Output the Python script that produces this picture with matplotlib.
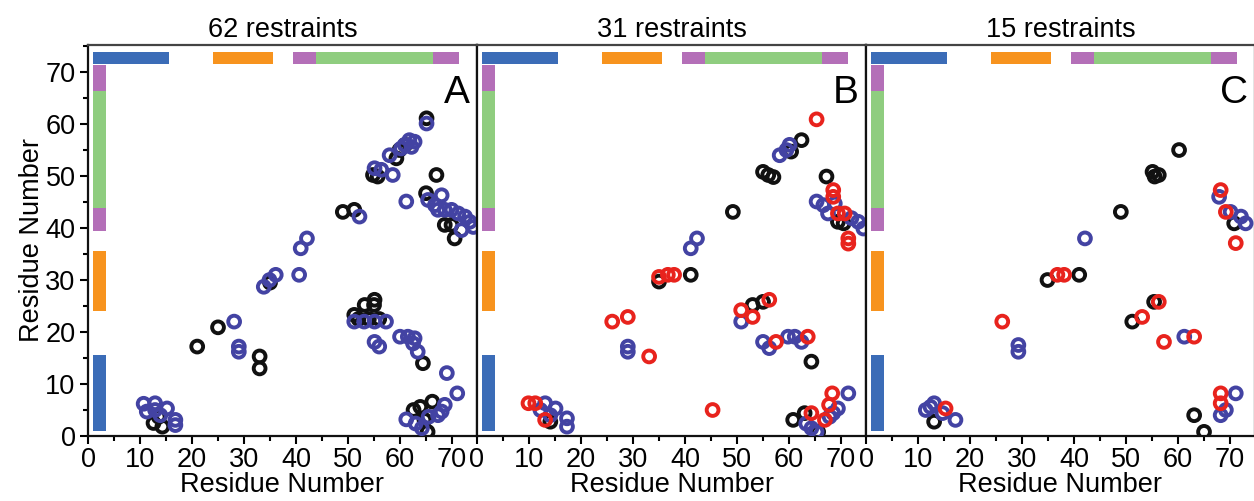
import matplotlib
matplotlib.use("Agg")
import matplotlib.pyplot as plt
from matplotlib.ticker import MultipleLocator

plt.rcParams['font.family'] = ['Liberation Sans', 'DejaVu Sans']

# ---------------- data ----------------
titles = ["62 restraints", "31 restraints", "15 restraints"]
letters = ["A", "B", "C"]

# Panel A
a_black_x = [12.6, 14.3, 13.6, 21, 25, 33, 33, 35, 49, 51.2, 54.8, 55.7, 59.3, 59.9, 61, 65.1, 67, 65, 68.6, 69.9, 70.5,
             51.2, 53.2, 55.1, 55, 52, 54, 56, 64.4, 62.6, 63.9, 66.2, 65.3, 64.7]
a_black_y = [2.5, 1.8, 3.7, 17.2, 20.9, 15.3, 13.0, 29.5, 43.1, 43.5, 50.2, 49.9, 53.4, 55, 56, 61.1, 50.2, 46.7, 40.6, 40.6, 38,
             23.3, 25.2, 26.2, 25.2, 22.5, 22.5, 22.5, 14.0, 5.0, 5.6, 6.6, 0.8, 3.1]
a_blue_x = [10.7, 12.9, 11.3, 12.9, 15.2, 13.9, 16.8, 16.8, 28.1, 29, 29, 33.8, 36.1, 34.9, 40.6, 40.9, 42.1, 52.2,
            55.1, 56.4, 58.6, 58, 60.2, 60.9, 61.8, 62.8, 62.2, 65.1, 61.2, 68, 65.4, 66.7, 67.3, 68.6, 69.9, 71.2,
            72.5, 73.4, 74.1, 71.8, 51.2, 53.1, 55.1, 57.3, 55.1, 56, 60, 61.5, 62.8, 62.5, 63.4, 69, 71, 68.6, 68,
            67.3, 61.2, 63, 64.2, 65.5]
a_blue_y = [6.2, 6.3, 4.7, 5.0, 5.3, 4.0, 3.1, 2.1, 22, 17.2, 16.2, 28.7, 31, 30, 31, 36.1, 38, 42.2,
            51.5, 51.2, 50.2, 54, 55.3, 56, 56.9, 56.6, 55.6, 60.1, 45.1, 46.3, 45.4, 44.4, 43.5, 43.5, 43.5, 42.8,
            42.2, 41.2, 40.2, 39.6, 22, 22, 22, 22, 18.1, 17.2, 19.1, 19.1, 18.8, 17.8, 16.2, 12.1, 8.2, 6.0, 4.7,
            4.0, 3.2, 2.4, 1.5, 3.7]
a_red_x = []
a_red_y = []

# Panel B
b_black_x = [14.1, 35, 41.1, 49.2, 55, 56, 57, 62.4, 60.4, 67.2, 70.5, 69.4, 53, 55, 64.3, 60.8, 63, 65.6]
b_black_y = [2.75, 29.7, 31, 43.1, 50.8, 50.2, 49.8, 56.9, 54.7, 49.9, 40.9, 41.2, 25.2, 25.8, 14.3, 3.1, 4.4, 0.8]
b_blue_x = [13.1, 12.2, 15.1, 14.1, 17.3, 17.3, 29, 29, 41.1, 42.3, 58.2, 59.5, 60.1, 65.3, 66.6, 67.5, 68.8, 72,
            73.3, 74.3, 50.8, 55, 56.2, 59.8, 61.1, 62.4, 63.3, 64.3, 65.3, 69.4, 68.5, 67.8, 71.4]
b_blue_y = [6.3, 5.0, 5.3, 4.0, 3.4, 1.8, 17.2, 16.2, 36.1, 38, 54, 55, 56, 45.1, 44.4, 42.8, 44.7, 41.9,
            41.2, 39.9, 22, 18.1, 16.9, 19.1, 19.1, 18.1, 2.4, 1.5, 0.8, 5.3, 4.4, 3.7, 8.2]
b_red_x = [9.9, 11.2, 13.1, 26, 29, 33.1, 45.3, 35, 36.7, 37.9, 71.4, 71.4, 50.8, 53, 56.2, 57.5, 63.6, 64.3,
           66.9, 67.7, 68.3, 65.3, 68.5, 68.5, 69.4, 70.7]
b_red_y = [6.3, 6.3, 3.1, 22, 22.9, 15.3, 5, 30.6, 31, 31, 38, 37, 24.2, 22.9, 26.2, 18.1, 19.1, 4.4,
           3.1, 6.0, 8.2, 60.9, 47.3, 46, 42.8, 42.8]

# Panel C
c_black_x = [13.1, 34.9, 41, 49, 55.1, 56.3, 55.5, 60.2, 70.8, 51.2, 55.4, 63.1, 65]
c_black_y = [2.75, 30, 31, 43.1, 50.8, 50.2, 49.9, 55, 40.9, 22, 25.8, 4.0, 0.8]
c_blue_x = [11.5, 13.1, 14.7, 12.4, 17.2, 29.3, 29.3, 42.1, 61.2, 71.1, 68.2, 69.2, 67.9, 70.1, 72.1, 73]
c_blue_y = [5.0, 6.3, 4.4, 5.6, 3.1, 17.5, 16.2, 38, 19.1, 8.2, 4.0, 5.0, 46, 43.1, 42.2, 40.9]
c_red_x = [15.3, 26.2, 36.8, 38.1, 71.1, 53.1, 56.3, 57.3, 63.1, 68.2, 68.2, 68.2, 69.2]
c_red_y = [5.3, 22, 31, 31, 37.1, 22.9, 25.8, 18.1, 19.1, 8.2, 6.3, 47.3, 43.1]

panels = [
    (a_black_x, a_black_y, a_blue_x, a_blue_y, a_red_x, a_red_y),
    (b_black_x, b_black_y, b_blue_x, b_blue_y, b_red_x, b_red_y),
    (c_black_x, c_black_y, c_blue_x, c_blue_y, c_red_x, c_red_y),
]

# secondary structure segments (residue ranges)
seg_start = [1, 24, 39.5, 43.8, 66.3]
seg_end = [15.5, 35.5, 43.8, 66.3, 71.3]
seg_colors = ["#3b6cb7", "#f7931e", "#b46fb8", "#8fcd7f", "#b46fb8"]

tick_vals = [0, 10, 20, 30, 40, 50, 60, 70]

# ---------------- plot ----------------
fig = plt.figure(figsize=(12.54, 5.01), dpi=100)
W, H = 1254, 501
lefts = [88, 477, 866]
ax_w = 389
bottom_px, top_px = 436, 45

col_black = "#111111"
col_blue = "#4343a3"
col_red = "#e8231d"
ms_area = 72
lw = 2.8
fs = 19.5

for i, (bx, by, ux, uy, rx, ry) in enumerate(panels):
    ax = fig.add_axes([lefts[i] / W, (H - bottom_px) / H, ax_w / W, (bottom_px - top_px) / H])
    ax.set_xlim(0, 74.8)
    ax.set_ylim(0, 75.2)

    # bars along top and left
    for s, e, c in zip(seg_start, seg_end, seg_colors):
        ax.fill_between([s, e], 71.5, 73.8, color=c, lw=0, zorder=1)
        ax.fill_betweenx([s, e], 1.0, 3.4, color=c, lw=0, zorder=1)

    ax.scatter(bx, by, s=ms_area, facecolors='none', edgecolors=col_black, linewidths=lw, zorder=3)
    ax.scatter(ux, uy, s=ms_area, facecolors='none', edgecolors=col_blue, linewidths=lw, zorder=4)
    ax.scatter(rx, ry, s=ms_area, facecolors='none', edgecolors=col_red, linewidths=lw, zorder=5)

    ax.set_title(titles[i], fontsize=fs, pad=6)
    ax.text(73.4, 64.0, letters[i], fontsize=28, ha='right', va='baseline')

    ax.set_xticks(tick_vals)
    ax.set_xticklabels([str(v) for v in tick_vals])
    ax.xaxis.set_minor_locator(MultipleLocator(5))
    ax.tick_params(axis='x', which='major', direction='out', length=6, width=1.5, labelsize=fs, pad=2)
    ax.tick_params(axis='x', which='minor', direction='out', length=3.5, width=1.5)
    ax.set_xlabel("Residue Number", fontsize=fs, labelpad=-1)

    if i == 0:
        ax.set_yticks(tick_vals)
        ax.yaxis.set_minor_locator(MultipleLocator(5))
        ax.tick_params(axis='y', which='major', direction='out', length=6, width=1.5, labelsize=fs, pad=3)
        ax.tick_params(axis='y', which='minor', direction='out', length=3.5, width=1.5)
        ax.set_ylabel("Residue Number", fontsize=fs, labelpad=0)
    else:
        ax.set_yticks([])

    for side in ['left', 'bottom', 'right', 'top']:
        ax.spines[side].set_linewidth(1.6)
        ax.spines[side].set_color('#111111')
    ax.spines['top'].set_color('#444444')

fig.savefig("out.png", dpi=100)
